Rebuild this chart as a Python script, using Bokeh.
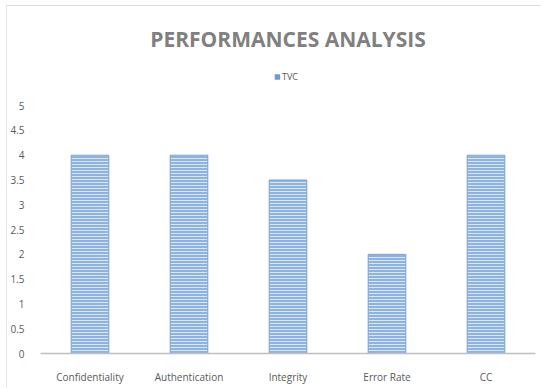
from bokeh.plotting import figure
from bokeh.models import FixedTicker, Legend, LegendItem, Title, Range1d, ColumnDataSource
from bokeh.embed import file_html
from bokeh.resources import INLINE

# Chart data
categories = ["Confidentiality", "Authentication", "Integrity", "Error Rate", "CC"]
tvc_values = [4, 4, 3.5, 2, 4]
y_ticks = [0, 0.5, 1, 1.5, 2, 2.5, 3, 3.5, 4, 4.5, 5]

src = ColumnDataSource(dict(cat=categories, val=tvc_values))

p = figure(
    x_range=categories,
    y_range=Range1d(0, 5.87),
    width=535, height=383,
    output_backend="svg",
    toolbar_location=None,
    min_border_left=33, min_border_right=7,
    min_border_bottom=36, min_border_top=56,
    background_fill_color="white",
    border_fill_color="white",
    outline_line_color=None,
    styles={"margin-left": "6px", "margin-top": "5px",
            "border-top": "1px solid #dcdcdc", "border-left": "1px solid #e6e6e6"},
)

bars = p.vbar(
    x="cat", top="val", width=0.38, source=src,
    fill_color="#8db3e2", line_color="#79a2d6", line_width=1,
    hatch_pattern="horizontal_line", hatch_color="#dbe7f6",
    hatch_scale=3, hatch_weight=1,
)

# Solid swatch for the legend key: a zero-height bar, so nothing shows in the plot
key = p.vbar(x=[categories[0]], top=[0], bottom=[0], width=0.38,
             fill_color="#6d9ad4", line_color=None)

title = Title(text="PERFORMANCES ANALYSIS", align="center",
              text_font="Open Sans", text_font_size="21px",
              text_font_style="bold", text_color="#808080",
              standoff=19)
p.add_layout(title, "above")

legend = Legend(items=[LegendItem(label="TVC", renderers=[key])],
                orientation="horizontal", location="top_center",
                glyph_width=7, glyph_height=7,
                label_text_font="Open Sans", label_text_font_size="9px",
                label_text_color="#595959", label_standoff=2,
                label_height=10,
                border_line_color=None, background_fill_alpha=0,
                padding=0, margin=8, spacing=0)
p.add_layout(legend)

# Axes
p.xgrid.grid_line_color = None
p.ygrid.grid_line_color = None

p.xaxis.axis_line_color = "#bfbfbf"
p.xaxis.axis_line_width = 1.5
p.xaxis.major_tick_line_color = None
p.xaxis.minor_tick_line_color = None
p.xaxis.major_label_text_font = "Open Sans"
p.xaxis.major_label_text_font_size = "10px"
p.xaxis.major_label_text_color = "#595959"
p.xaxis.major_label_standoff = 10

p.yaxis.ticker = FixedTicker(ticks=y_ticks)
p.yaxis.axis_line_color = None
p.yaxis.major_tick_line_color = None
p.yaxis.minor_tick_line_color = None
p.yaxis.major_label_text_font = "Open Sans"
p.yaxis.major_label_text_font_size = "10px"
p.yaxis.major_label_text_color = "#595959"
p.yaxis.major_label_standoff = 10

open("out.html", "w").write(file_html(p, INLINE))
